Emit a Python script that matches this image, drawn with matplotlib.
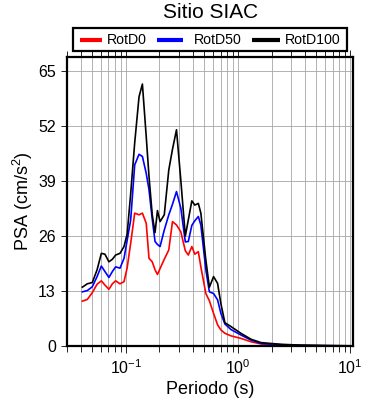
import numpy as np
import matplotlib
matplotlib.use("Agg")
import matplotlib.pyplot as plt
from matplotlib.lines import Line2D
from matplotlib.patches import Rectangle
from matplotlib.ticker import LogLocator, MultipleLocator, NullFormatter

plt.rcParams['font.family'] = ['Liberation Sans', 'DejaVu Sans']
plt.rcParams['mathtext.fontset'] = 'custom'
plt.rcParams['mathtext.rm'] = 'Liberation Sans'
plt.rcParams['mathtext.it'] = 'Liberation Sans:italic'

# Datos
periodo = [0.0411, 0.0455, 0.0504, 0.0556, 0.0607, 0.0653, 0.0709, 0.0761, 0.0814, 0.0890,
           0.0966, 0.1031, 0.1108, 0.1203, 0.1315, 0.1409, 0.1524, 0.1614, 0.1724, 0.1826,
           0.1919, 0.2024, 0.2207, 0.2421, 0.2612, 0.2836, 0.3098, 0.3399, 0.3614, 0.3884,
           0.4131, 0.4439, 0.4674, 0.5179, 0.5567, 0.6067, 0.6590, 0.7051, 0.7655, 0.8660,
           1.0636, 1.3067, 1.6054, 2.42, 3.65, 6.11, 10.0]
rotd100 = [13.9, 14.7, 15.0, 18.0, 21.9, 21.7, 19.9, 20.5, 21.5, 21.9,
           23.5, 26.5, 36.0, 48.0, 58.9, 61.9, 49.5, 40.0, 31.0, 26.8,
           32.0, 29.4, 31.0, 41.6, 46.5, 51.1, 39.2, 26.0, 29.8, 34.3,
           33.3, 33.7, 31.4, 20.3, 13.9, 16.4, 14.8, 10.0, 5.5, 4.6,
           3.0, 1.6, 0.8, 0.4, 0.2, 0.1, 0.05]
rotd50 = [12.8, 13.1, 14.0, 16.4, 18.9, 17.6, 16.2, 17.6, 18.7, 18.4,
          20.7, 25.0, 29.8, 42.8, 45.3, 44.8, 40.8, 36.9, 30.0, 24.7,
          24.0, 23.5, 27.4, 31.0, 33.5, 36.5, 32.6, 24.6, 24.7, 28.5,
          29.6, 30.6, 28.6, 18.0, 12.8, 12.4, 10.9, 7.7, 5.2, 3.9,
          2.6, 1.4, 0.6, 0.3, 0.15, 0.08, 0.04]
rotd0 = [10.6, 11.0, 12.6, 14.6, 15.4, 14.4, 13.4, 14.7, 15.4, 14.7,
         15.2, 18.5, 24.3, 31.4, 31.0, 31.4, 29.0, 20.7, 19.9, 18.0,
         16.9, 18.3, 20.5, 22.7, 29.4, 28.6, 27.0, 22.5, 21.5, 23.5,
         21.7, 22.3, 18.7, 12.4, 10.7, 7.7, 5.0, 3.8, 3.0, 2.4,
         1.8, 1.0, 0.5, 0.25, 0.12, 0.06, 0.03]

series = [('RotD0', rotd0, 'red'), ('RotD50', rotd50, 'blue'), ('RotD100', rotd100, 'black')]

fig = plt.figure(figsize=(3.9, 4.0), dpi=100)
ax = fig.add_axes([67/390, 54/400, 286/390, 289/400])

for nombre, valores, color in series:
    ax.plot(periodo, valores, color=color, lw=1.2, label=nombre)

ax.set_xscale('log')
ax.set_xlim(0.03, 10.6)
ax.set_ylim(0, 68.3)
ax.yaxis.set_major_locator(MultipleLocator(13))
ax.xaxis.set_major_locator(LogLocator(base=10, numticks=10))
ax.xaxis.set_minor_locator(LogLocator(base=10, subs=np.arange(2, 10), numticks=20))
ax.xaxis.set_minor_formatter(NullFormatter())

ax.grid(True, which='major', axis='both', color='#a6a6a6', lw=0.6)
ax.grid(True, which='minor', axis='x', color='#a6a6a6', lw=0.6)

for s in ax.spines.values():
    s.set_linewidth(1.6)
ax.tick_params(axis='x', which='both', direction='out', top=True, bottom=True,
               labelsize=11.5, width=0.6)
ax.tick_params(axis='x', which='major', length=5, pad=4)
ax.tick_params(axis='x', which='minor', length=4)
ax.tick_params(axis='y', which='major', direction='out', length=4, width=0.6,
               labelsize=11.5, right=False, pad=4)

ax.set_xlabel('Periodo (s)', fontsize=13, labelpad=3)
ax.set_ylabel('PSA (cm/s$^2$)', fontsize=13, labelpad=2)
fig.text(211/390, 1 - 13/400, 'Sitio SIAC', ha='center', va='center', fontsize=15)

# leyenda en caja sobre el grafico
W, H = 390.0, 400.0
fig.add_artist(Rectangle((73/W, 1 - 51/H), 274/W, 23/H, transform=fig.transFigure,
                         facecolor='white', edgecolor='black', lw=1.6))
pos_linea = [(80, 102), (157, 183), (252, 280)]
pos_texto = [107, 194, 285]
for (nombre, valores, color), (x0, x1), xt in zip(series, pos_linea, pos_texto):
    fig.add_artist(Line2D([x0/W, x1/W], [1 - 39.5/H] * 2, transform=fig.transFigure,
                          color=color, lw=3, solid_capstyle='butt'))
    fig.text(xt/W, 1 - 39.5/H, nombre, ha='left', va='center', fontsize=10.2)

fig.savefig('out.png', dpi=100)
